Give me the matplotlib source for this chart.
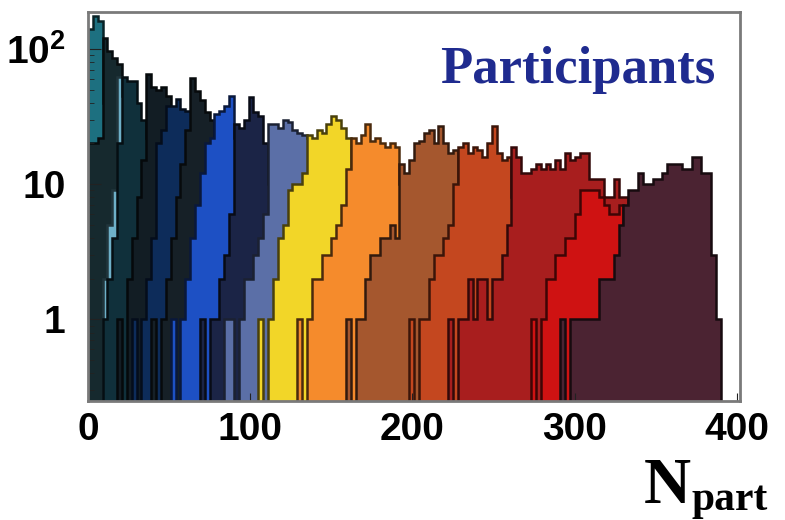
import numpy as np
import matplotlib
matplotlib.use("Agg")
import matplotlib.pyplot as plt
from matplotlib.colors import to_rgb
from matplotlib.ticker import NullFormatter

plt.rcParams['font.family'] = ['Liberation Sans', 'DejaVu Sans']
plt.rcParams['font.weight'] = 'bold'
plt.rcParams['mathtext.fontset'] = 'custom'
plt.rcParams['mathtext.bf'] = 'Liberation Sans:bold'

bin_width = 3

# N_part distributions per centrality class, peripheral -> central.
# each class: first bin edge and the counts in 3-wide bins
teal_start, teal = 0, [140, 175, 160, 40, 12, 3, 1]
slate_start, slate = 0, [20, 20, 22, 120, 97, 85, 78, 45, 25, 10, 4, 2, 1]
sky_start, sky = 9, [2, 5, 9, 62, 45, 25, 10, 4, 2, 1]
darkteal_start, darkteal = 9, [1, 2, 4, 20, 62, 58, 58, 40, 30, 22, 14, 8, 4, 0, 2, 1]
black_start, black = 18, [1, 0, 2, 4, 8, 15, 65, 52, 50, 52, 45, 25, 14, 6, 3, 1]
darknavy_start, darknavy = 27, [1, 0, 1, 2, 4, 20, 25, 38, 38, 43, 36, 35, 35, 20, 8, 3, 1]
charcoal_start, charcoal = 39, [1, 0, 1, 2, 4, 8, 14, 25, 61, 49, 42, 34, 30, 12, 5, 2, 1]
blue_start, blue = 51, [1, 0, 1, 2, 4, 7, 12, 20, 22, 33, 35, 38, 45, 22, 10, 4, 2, 1]
navy_start, navy = 69, [1, 0, 1, 1, 2, 3, 6, 28, 26, 30, 44, 34, 32, 20, 10, 4, 2, 1]
lavender_start, lavender = 84, [1, 1, 0, 1, 2, 2, 3, 4, 6, 28, 28, 26, 30, 29, 25, 24, 23, 22, 12, 6, 3, 1]
yellow_start, yellow = 105, [1, 0, 1, 2, 4, 5, 9, 10, 10, 12, 23, 22, 25, 24, 28, 32, 30, 26, 22, 8, 3, 1]
orange_start, orange = 129, [1, 0, 1, 2, 2, 3, 3, 4, 5, 7, 13, 22, 20, 23, 28, 21, 22, 20, 19, 20, 19, 10, 5, 2, 1]
brown_start, brown = 159, [1, 0, 1, 1, 2, 3, 3, 4, 4, 5, 4, 14, 12, 15, 20, 21, 24, 25, 20, 27, 20, 17, 18, 8, 3, 1]
redorange_start, redorange = 198, [1, 0, 1, 1, 2, 3, 3, 4, 5, 10, 19, 20, 17, 19, 18, 16, 20, 27, 17, 15, 16, 8, 4, 2, 1]
crimson_start, crimson = 222, [1, 0, 1, 1, 2, 1, 2, 2, 1, 2, 2, 3, 5, 19, 16, 12, 12, 13, 14, 13, 14, 13,
                               15, 13, 17, 15, 16, 17, 17, 11, 11, 11, 8, 8, 11, 8, 8, 3, 1]
red_start, red = 273, [1, 0, 1, 2, 2, 3, 3, 4, 4, 6, 9, 9, 9, 9, 8, 7, 6, 6, 7, 5, 3, 2, 1]
maroon_start, maroon = 291, [1, 0, 1, 1, 1, 1, 1, 1, 2, 2, 2, 3, 5, 7, 9, 9, 12, 10, 10, 11, 11, 12,
                             14, 14, 14, 13, 13, 16, 16, 12, 12, 3, 1]

starts = [teal_start, slate_start, sky_start, darkteal_start, black_start, darknavy_start,
          charcoal_start, blue_start, navy_start, lavender_start, yellow_start, orange_start,
          brown_start, redorange_start, crimson_start, red_start, maroon_start]
classes = [teal, slate, sky, darkteal, black, darknavy, charcoal, blue, navy, lavender,
           yellow, orange, brown, redorange, crimson, red, maroon]
colors = ['#1d7080', '#16292e', '#6eb0c8', '#10303b', '#121d24', '#0d2c5a', '#162027',
          '#1d50c4', '#1b2446', '#5b6fa7', '#f2d628', '#f58b2c', '#a5572e', '#c4471f',
          '#a81e1e', '#cf1212', '#4b2332']

fig = plt.figure(figsize=(7.85, 5.2), dpi=100)
ax = fig.add_axes([0.112, 0.229, 0.831, 0.747])
ax.set_yscale('log')

for start, counts, color in zip(starts, classes, colors):
    counts = np.asarray(counts, dtype=float)
    edges = start + bin_width * np.arange(len(counts) + 1)
    edge_col = np.array(to_rgb(color)) * 0.3
    ax.stairs(np.where(counts > 0, counts, 0.01), edges, baseline=0.01, fill=True,
              facecolor=color, edgecolor=edge_col, linewidth=1.8)

ax.set_xlim(0, 402)
ax.set_ylim(0.25, 186)

ax.set_xticks([0, 100, 200, 300, 400])
ax.set_xticklabels(['0', '100', '200', '300', '400'])
ax.set_yticks([1, 10, 100])
ax.set_yticklabels(['1', '10', r'$\mathbf{10^2}$'])
ax.yaxis.set_minor_formatter(NullFormatter())
ax.tick_params(axis='both', which='major', direction='in', labelsize=28, color='#222222')
ax.tick_params(axis='x', which='major', length=6, pad=8)
ax.tick_params(axis='y', which='major', length=9, pad=16)
ax.tick_params(axis='y', which='minor', direction='in', length=4, color='#222222')
for sp in ax.spines.values():
    sp.set_color('#7a7a7a')
    sp.set_linewidth(2)

fig.text(440 / 785, 1 - 83 / 520, 'Participants', family='Liberation Serif',
         weight='bold', size=38, color='#1f2b8f', va='baseline')
# axis title: N with subscript "part"
fig.text(644 / 785, 1 - 503 / 520, 'N', family='Liberation Serif',
         weight='bold', size=47, va='baseline')
fig.text(691 / 785, 1 - 510 / 520, 'part', family='Liberation Serif',
         weight='bold', size=30, va='baseline')

fig.savefig('out.png', dpi=100)
